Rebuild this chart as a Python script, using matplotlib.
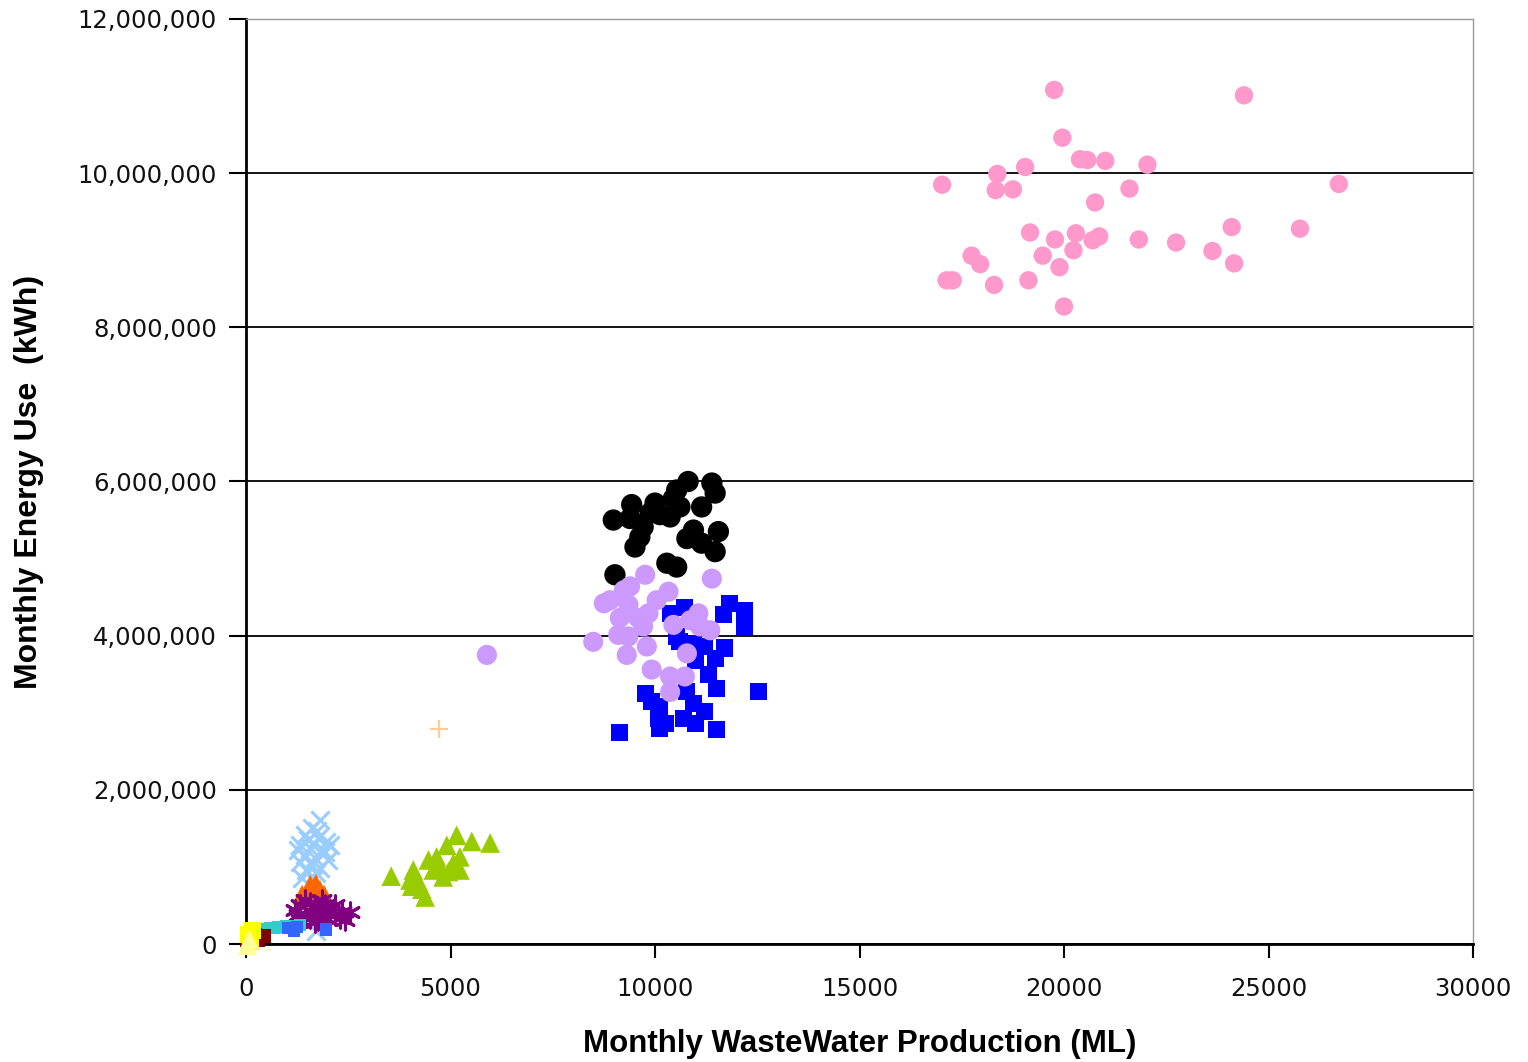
import matplotlib
matplotlib.use("Agg")
import matplotlib.pyplot as plt
from matplotlib.ticker import FuncFormatter

# ---------------- data (ML, kWh) ----------------
pink_x = [19760, 24400, 19960, 20390, 20570, 21010, 22040, 19050, 18370, 17020,
          18330, 18750, 21600, 26720, 20760, 19170, 19780, 20290, 20230, 20700,
          20860, 21830, 22740, 24100, 25770, 23630, 24160, 19480, 19890, 17740,
          17950, 17130, 17280, 18290, 19130, 20000]
pink_y = [11080000, 11010000, 10460000, 10180000, 10170000, 10160000, 10110000, 10080000, 9990000, 9850000,
          9780000, 9790000, 9800000, 9860000, 9620000, 9230000, 9140000, 9220000, 9000000, 9130000,
          9180000, 9140000, 9100000, 9300000, 9280000, 8990000, 8830000, 8930000, 8780000, 8930000,
          8820000, 8610000, 8610000, 8550000, 8610000, 8270000]

black_x = [10810, 11390, 11470, 10530, 10450, 9430, 10000, 8980, 9390, 9710,
           10120, 10610, 11140, 10940, 11550, 10780, 11140, 11470, 9630, 9510,
           10290, 10530, 9020, 9880, 10370]
black_y = [6000000, 5980000, 5850000, 5890000, 5780000, 5700000, 5720000, 5500000, 5520000, 5410000,
           5570000, 5670000, 5670000, 5370000, 5350000, 5260000, 5200000, 5090000, 5280000, 5150000,
           4940000, 4890000, 4790000, 5590000, 5540000]

blue_x = [11830, 12200, 11670, 12200, 10370, 10730, 10530, 10610, 10940, 11220,
          11710, 11470, 10980, 11300, 11510, 12530, 9760, 9920, 10120, 10080,
          10250, 10780, 10940, 11220, 10690, 10980, 11510, 9140, 10120]
blue_y = [4420000, 4330000, 4270000, 4120000, 4290000, 4360000, 3990000, 3920000, 3880000, 3860000,
          3840000, 3710000, 3680000, 3490000, 3320000, 3270000, 3250000, 3140000, 3080000, 2930000,
          2860000, 3270000, 3120000, 3010000, 2930000, 2860000, 2780000, 2750000, 2800000]

lav_x = [9760, 11390, 9390, 8900, 10040, 10330, 9350, 9140, 9590, 9840,
         9710, 9100, 9350, 8490, 9800, 9310, 10450, 11060, 11100, 11350,
         10780, 9920, 10370, 10730, 10370, 5890, 8750, 9240, 10860]
lav_y = [4790000, 4740000, 4640000, 4460000, 4460000, 4570000, 4400000, 4230000, 4230000, 4290000,
         4120000, 4010000, 3990000, 3920000, 3860000, 3750000, 4140000, 4290000, 4120000, 4070000,
         3770000, 3560000, 3470000, 3470000, 3270000, 3750000, 4420000, 4590000, 4200000]

green_x = [3550, 4090, 4010, 4210, 4050, 4380, 4300, 4460, 4660, 4910,
           4740, 4820, 5150, 5230, 5230, 5520, 5970, 5070, 4580, 4950]
green_y = [880000, 960000, 830000, 810000, 750000, 610000, 710000, 1090000, 1130000, 1280000,
           1000000, 870000, 1410000, 1130000, 960000, 1330000, 1310000, 1050000, 960000, 940000]

plus_x = [4720]
plus_y = [2790000]

ltblue_x = [1810, 1610, 1440, 1760, 1960, 1320, 1570, 1860, 1440, 1690,
            2010, 1320, 1610, 1810, 1470, 1710, 1930, 1370, 1640, 1520,
            1740, 1270, 2050, 1710]
ltblue_y = [1610000, 1510000, 1410000, 1380000, 1320000, 1280000, 1250000, 1220000, 1160000, 1120000,
            1090000, 1060000, 1030000, 990000, 960000, 920000, 1190000, 860000, 830000, 1350000,
            1470000, 1220000, 1280000, 170000]

orange_x = [1370, 1520, 1660, 1810, 1910, 1440, 1610, 1760, 1570, 1710]
orange_y = [640000, 700000, 730000, 700000, 640000, 600000, 640000, 620000, 770000, 780000]

purple_x = [1200, 1320, 1440, 1570, 1690, 1810, 1930, 2050, 2180, 2300,
            2420, 2540, 1320, 1570, 1760, 1960, 1440, 1860, 2180, 1270,
            1610, 2010, 2350, 1690]
purple_y = [440000, 510000, 380000, 530000, 470000, 420000, 510000, 440000, 380000, 340000,
            310000, 420000, 310000, 340000, 310000, 340000, 570000, 570000, 510000, 380000,
            420000, 390000, 420000, 290000]

cyan_x = [220, 390, 590, 780, 980, 1170, 1320, 470, 710, 1080, 290]
cyan_y = [180000, 200000, 210000, 220000, 230000, 235000, 250000, 170000, 200000, 220000, 170000]

royal_x = [1030, 1170, 1250, 1960]
royal_y = [210000, 170000, 220000, 190000]

dkred_x = [100, 290, 440, 220, 20]
dkred_y = [80000, 50000, 100000, 120000, 50000]

yellow_x = [50, 100, 150]
yellow_y = [120000, 30000, 180000]

ltyellow_x = [30, 80]
ltyellow_y = [-20000, 60000]

# ---------------- figure ----------------
fig = plt.figure(figsize=(15.28, 10.62), dpi=100)
ax = fig.add_axes([246/1528, 1 - 944/1062, (1473-246)/1528, (944-19)/1062])

kw = dict(clip_on=False, zorder=3)
ax.scatter(pink_x, pink_y, s=175, c="#FF99CC", edgecolors="none", **kw)
ax.scatter(black_x, black_y, s=235, c="#000000", edgecolors="none", **kw)
ax.scatter(blue_x, blue_y, s=150, marker="s", c="#0000FF", edgecolors="none", **kw)
ax.scatter(lav_x, lav_y, s=210, c="#CC99FF", edgecolors="none", **kw)
ax.scatter(green_x, green_y, s=200, marker="^", c="#99CC00", edgecolors="none", **kw)
ax.scatter(plus_x, plus_y, s=150, marker="+", c="#FFCC99", linewidths=1.6, **kw)
ax.scatter(ltblue_x, ltblue_y, s=170, marker="x", c="#99CCFF", linewidths=2.2, **kw)
ax.scatter(orange_x, orange_y, s=200, marker="^", c="#FF6600", edgecolors="none", **kw)
ax.scatter(purple_x, purple_y, s=190, marker=(6, 2, 0), c="#800080", linewidths=2.2, **kw)
ax.scatter(cyan_x, cyan_y, s=70, marker="s", c="#33CCCC", edgecolors="none", **kw)
ax.scatter(royal_x, royal_y, s=80, marker="s", c="#3366FF", edgecolors="none", **kw)
ax.scatter(dkred_x, dkred_y, s=100, marker="s", c="#800000", edgecolors="none", **kw)
ax.scatter(yellow_x, yellow_y, s=150, marker="s", c="#FFFF00", edgecolors="none", **kw)
ax.scatter(ltyellow_x, ltyellow_y, s=190, marker="^", c="#FFFF99", edgecolors="none", **kw)

ax.set_xlim(0, 30000)
ax.set_ylim(0, 12000000)
ax.set_xticks([0, 5000, 10000, 15000, 20000, 25000, 30000])
ax.set_yticks(range(0, 12000001, 2000000))
ax.yaxis.set_major_formatter(FuncFormatter(lambda v, p: f"{int(v):,}"))
ax.xaxis.set_major_formatter(FuncFormatter(lambda v, p: f"{int(v)}"))

ax.grid(axis="y", color="black", linewidth=1.3, zorder=1)
ax.set_axisbelow(True)
for s in ("left", "bottom"):
    ax.spines[s].set_color("black")
    ax.spines[s].set_linewidth(2)
for s in ("top", "right"):
    ax.spines[s].set_color("#999999")
    ax.spines[s].set_linewidth(1)

ax.tick_params(axis="both", direction="out", length=10, width=1.5, color="black",
               labelsize=17.5, labelcolor="#111111")
ax.tick_params(axis="y", pad=9, length=12)
ax.tick_params(axis="x", pad=14, length=10)
ax.tick_params(top=False, right=False)

ax.set_xlabel("Monthly WasteWater Production (ML)", fontsize=22.5, fontweight="bold",
              family=["Liberation Sans", "DejaVu Sans"], labelpad=20)
ax.set_ylabel("Monthly Energy Use  (kWh)", fontsize=23, fontweight="bold",
              family=["Liberation Sans Narrow", "Liberation Sans", "DejaVu Sans"], labelpad=24)

fig.savefig("out.png", dpi=100)
